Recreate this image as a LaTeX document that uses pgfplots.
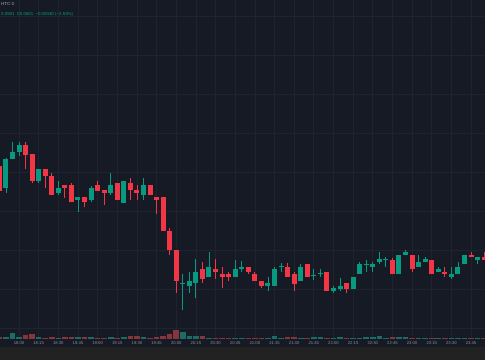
\documentclass[border=0pt]{standalone}
\usepackage{fontspec}
\setmainfont{Liberation Sans}
\usepackage{pgfplots}
\pgfplotsset{compat=1.18}
\usepackage{pgfplotstable}
\definecolor{bg}{HTML}{161A25}
\definecolor{gridc}{HTML}{1F2330}
\definecolor{upc}{HTML}{089981}
\definecolor{dnc}{HTML}{F23645}
\definecolor{upv}{HTML}{1C6B66}
\definecolor{dnv}{HTML}{86363A}
\definecolor{labc}{HTML}{8A8E98}
\definecolor{strip}{HTML}{232222}
\definecolor{hdr}{HTML}{A8ACB5}

% up candles: index, open, high, low, close
\pgfplotstableread{
i o h l c
1 172 202 167.3 201
2 200.7 217.7 200.7 208
3 208 217.7 204 215
6 179 191 177.3 191
9 167 179.3 165.3 172
12 160 163 148.3 162.7
14 160 174.3 158 172.3
17 167.3 186.7 165 175
19 157.3 179.3 157.3 179.3
22 164.7 181.7 160 175
28 76.2 85.7 50 77.2
29 74 88.3 67.3 79
30 76.7 100.7 61.7 88.3
32 83.3 107.7 83.3 93.3
36 83.3 100.3 83.3 91
37 90.8 99 88.3 93.3
41 74 83.3 69.3 76.7
42 74 93.3 74 90.7
43 92.5 96.7 88.3 93.5
46 78.7 96 78.7 93.3
48 84.2 90.7 80 85.2
49 85.5 90.7 83.3 86.5
51 69 74 66.7 71.7
52 71.3 81.7 69.3 74
54 71.3 83.3 71.3 83.3
55 86 98 86 95.7
56 95.2 100 88.3 96.2
57 93.3 98 88.3 95.7
58 98 108 95.7 100.7
59 100 103.3 93.3 101
61 85.7 105.3 85.7 105.3
62 105.3 110 105.3 107.7
64 93 105.3 93 98
65 98 102.7 98 100.7
67 88.3 93.3 88.3 90.7
69 83.3 93.3 81 86
70 85.7 98 85.7 93.3
71 95.7 105.3 95.7 105.3
73 100.3 103 95.7 103
}\upcandles

% down candles: index, open, high, low, close
\pgfplotstableread{
i o h l c
0 194 201 169 169.3
4 215 217.7 191.3 205.3
5 205.7 206 176.7 179
7 191 191 172.3 184.3
8 184.3 186.7 164.7 164.7
10 174.7 175 162.3 172
11 174.7 176.7 157.7 157.7
13 162.7 163 153.3 157.7
15 174.7 179 169.3 169.3
16 170 170 155.3 167.3
18 177.3 177.3 160 160
20 177.3 181.7 160 170
21 170 175 160 167.3
23 175 175 164.7 164.7
24 162.7 163 145.7 160
25 162.7 163 128.7 128.7
26 129 131.7 105.3 109.7
27 110 110 67 79
31 91 98 76.7 81.3
33 91 100.7 81 88.3
34 86 93.3 71.7 83.3
35 86 88 79 83.3
38 93.3 93.3 85.7 88.3
39 86 88.3 78.7 78.7
40 78.7 78.7 71.7 74
44 93.3 97.3 83.3 83.3
45 86 88.3 69.3 76
47 95.7 95.7 83.3 83.3
50 88.3 88.3 69 69
53 76.7 76.7 66.7 71.3
60 100 102.3 85.7 85.7
63 105.3 105.3 88.3 90.7
66 100 100 85.7 85.7
68 88.3 93.3 83.3 85.7
72 105.3 108 102.7 102.7
74 103 107.7 100.3 100.3
}\dncandles

\pgfplotstableread{
i v
1 1.5
2 5.7
3 2
6 2
9 1
12 2
14 2
17 2
19 2
22 2
28 7
29 3.3
30 3
32 1.2
36 1.2
37 1.2
41 1.2
42 3
43 1.2
46 1.2
48 2.3
49 1.7
51 1.2
52 1.7
54 1.2
55 1.2
56 1.7
57 1.7
58 3.3
59 1.2
61 1.7
62 1.7
64 1.2
65 1.2
67 1.2
69 1.2
70 1.2
71 1.2
73 1.2
}\upvol

\pgfplotstableread{
i v
0 2
4 3.7
5 5
7 1
8 2
10 2
11 2
13 2
15 1
16 1
18 1
20 3.3
21 3.3
23 1
24 2
25 3.3
26 4.7
27 8.7
31 3
33 1.2
34 1.2
35 1.2
38 1.2
39 1.2
40 1.2
44 2.3
45 1.7
47 1.2
50 1.2
53 1.2
60 2
63 1.2
66 1.2
68 1.2
72 1.2
74 1.2
}\dnvol

\pgfplotsset{
  candle/.style 2 args={draw=none, no markers, forget plot,
    error bars/.cd, y dir=plus, y explicit, error mark=none,
    error bar style={line width=#1, draw=#2, solid}},
}

\begin{document}
\begin{tikzpicture}
\path[use as bounding box, clip] (0,0) rectangle (485bp,360bp);
\begin{axis}[
  at={(0,0)}, anchor=south west,
  scale only axis, width=485bp, height=360bp,
  xmin=0.0992, xmax=74.13, ymin=0, ymax=360,
  axis background/.style={fill=bg},
  axis line style={draw=none},
  major tick length=0pt,
  xtick={0,3,...,72},
  xticklabels={},
  ytick={32,71,110,149,188,227,266,305,344},
  yticklabels={},
  grid=major,
  major grid style={draw=gridc, line width=0.7bp},
]
\fill[strip] (rel axis cs:0,0) rectangle (rel axis cs:1,0.0361);
\fill[bg] (rel axis cs:0,0.0361) rectangle (rel axis cs:1,0.0583);

% wicks
\addplot[candle={0.8bp}{upc}]
  table[x=i, y=l, y error plus expr=\thisrow{h}-\thisrow{l}] {\upcandles};
\addplot[candle={0.8bp}{dnc}]
  table[x=i, y=l, y error plus expr=\thisrow{h}-\thisrow{l}] {\dncandles};
% bodies
\addplot[candle={5bp}{upc}]
  table[x=i, y=o, y error plus expr=\thisrow{c}-\thisrow{o}] {\upcandles};
\addplot[candle={5bp}{dnc}]
  table[x=i, y=c, y error plus expr=\thisrow{o}-\thisrow{c}] {\dncandles};

\node[anchor=west, inner sep=0pt, text=hdr, font=\fontsize{4.4}{5}\selectfont] at (rel axis cs:0.002,0.9889) {HTC-3};
\node[anchor=west, inner sep=0pt, text=upc, font=\fontsize{4.4}{5}\selectfont] at (rel axis cs:0.002,0.961) {0.0591\enspace C0.0601\enspace −0.00040 (−2.53\%)};
\end{axis}

\begin{axis}[
  at={(0,0)}, anchor=south west,
  scale only axis, width=485bp, height=360bp,
  xmin=0.0992, xmax=74.13, ymin=-21, ymax=339,
  axis line style={draw=none},
  major tick length=0pt,
  ytick=\empty,
  xtick={0,3,...,72},
  xticklabels={17:45,18:00,18:15,18:30,18:45,19:00,19:15,19:30,19:45,20:00,20:15,20:30,20:45,21:00,21:15,21:30,21:45,22:00,22:15,22:30,22:45,23:00,23:15,23:30,23:45},
  xticklabel style={anchor=center, yshift=17bp, font=\fontsize{4.2}{5}\selectfont, text=labc},
]
\addplot[ycomb, mark=none, draw=upv, line width=5.6bp] table[x=i, y=v] {\upvol};
\addplot[ycomb, mark=none, draw=dnv, line width=5.6bp] table[x=i, y=v] {\dnvol};
\end{axis}
\end{tikzpicture}
\end{document}
